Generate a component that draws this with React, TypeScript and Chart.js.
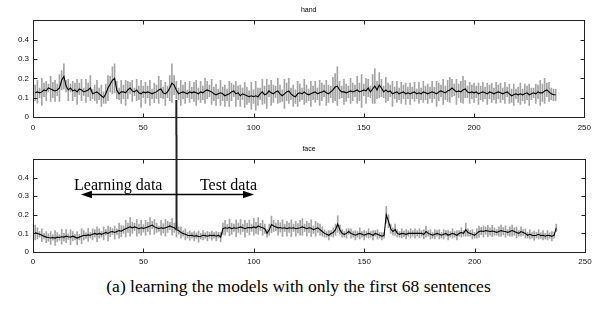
import React, { useEffect, useRef } from "react";
import { Chart, registerables } from "chart.js";

Chart.register(...registerables);

// ---- data ----
const panelTitles = ["hand", "face"];
const xTickValues = [0, 50, 100, 150, 200, 250];
const yTickValues = [0, 0.1, 0.2, 0.3, 0.4];
const caption = "(a) learning the models with only the first 68 sentences";
const arrowLabels = ["Learning data", "Test data"];
const splitSentence = 65;

const handMean = [
  0.125, 0.13, 0.125, 0.13, 0.14, 0.135, 0.15, 0.145, 0.14, 0.135,
  0.14, 0.15, 0.19, 0.21, 0.16, 0.14, 0.15, 0.135, 0.14, 0.13,
  0.145, 0.14, 0.13, 0.135, 0.14, 0.15, 0.12, 0.125, 0.13, 0.12,
  0.11, 0.1, 0.12, 0.15, 0.17, 0.19, 0.2, 0.14, 0.12, 0.13,
  0.13, 0.125, 0.14, 0.15, 0.135, 0.13, 0.14, 0.125, 0.12, 0.13,
  0.125, 0.13, 0.125, 0.12, 0.125, 0.13, 0.14, 0.145, 0.125, 0.12,
  0.13, 0.15, 0.175, 0.165, 0.14, 0.12, 0.125, 0.13, 0.125, 0.12,
  0.13, 0.125, 0.13, 0.125, 0.12, 0.13, 0.125, 0.135, 0.14, 0.135,
  0.13, 0.12, 0.115, 0.12, 0.125, 0.12, 0.11, 0.115, 0.12, 0.13,
  0.135, 0.12, 0.125, 0.11, 0.12, 0.115, 0.11, 0.105, 0.11, 0.105,
  0.11, 0.105, 0.12, 0.13, 0.115, 0.12, 0.135, 0.125, 0.12, 0.13,
  0.135, 0.12, 0.11, 0.12, 0.13, 0.135, 0.12, 0.11, 0.105, 0.12,
  0.125, 0.12, 0.13, 0.12, 0.115, 0.12, 0.125, 0.13, 0.12, 0.125,
  0.13, 0.135, 0.125, 0.12, 0.13, 0.14, 0.155, 0.16, 0.14, 0.13,
  0.13, 0.125, 0.13, 0.135, 0.13, 0.135, 0.14, 0.13, 0.135, 0.14,
  0.135, 0.15, 0.13, 0.145, 0.16, 0.14, 0.165, 0.15, 0.13, 0.14,
  0.13, 0.135, 0.12, 0.125, 0.13, 0.12, 0.125, 0.13, 0.12, 0.125,
  0.12, 0.125, 0.13, 0.12, 0.125, 0.12, 0.13, 0.125, 0.12, 0.125,
  0.13, 0.125, 0.12, 0.13, 0.135, 0.13, 0.125, 0.135, 0.14, 0.15,
  0.14, 0.13, 0.135, 0.13, 0.14, 0.145, 0.13, 0.125, 0.13, 0.125,
  0.13, 0.12, 0.125, 0.13, 0.125, 0.12, 0.13, 0.125, 0.12, 0.125,
  0.13, 0.125, 0.12, 0.125, 0.13, 0.12, 0.11, 0.115, 0.12, 0.115,
  0.12, 0.115, 0.12, 0.125, 0.115, 0.12, 0.125, 0.12, 0.13, 0.125,
  0.125, 0.135, 0.14, 0.13, 0.12, 0.115, 0.115,
];

const handErr = [
  0.04, 0.06, 0.025, 0.07, 0.035, 0.05, 0.02, 0.065, 0.04, 0.055,
  0.03, 0.07, 0.05, 0.065, 0.03, 0.055, 0.02, 0.05, 0.035, 0.065,
  0.03, 0.055, 0.02, 0.06, 0.035, 0.065, 0.025, 0.04, 0.06, 0.03,
  0.055, 0.03, 0.05, 0.065, 0.04, 0.07, 0.075, 0.045, 0.03, 0.06,
  0.035, 0.065, 0.045, 0.03, 0.055, 0.02, 0.055, 0.035, 0.07, 0.03,
  0.055, 0.03, 0.065, 0.025, 0.05, 0.035, 0.07, 0.045, 0.03, 0.06,
  0.03, 0.065, 0.1, 0.05, 0.045, 0.03, 0.065, 0.035, 0.055, 0.02,
  0.055, 0.03, 0.05, 0.065, 0.03, 0.055, 0.035, 0.065, 0.045, 0.03,
  0.065, 0.035, 0.055, 0.025, 0.065, 0.035, 0.055, 0.03, 0.065, 0.045,
  0.03, 0.065, 0.035, 0.055, 0.03, 0.065, 0.045, 0.03, 0.07, 0.035,
  0.075, 0.045, 0.03, 0.065, 0.045, 0.075, 0.03, 0.065, 0.045, 0.03,
  0.065, 0.045, 0.03, 0.075, 0.045, 0.065, 0.03, 0.055, 0.035, 0.065,
  0.045, 0.03, 0.065, 0.045, 0.03, 0.065, 0.035, 0.055, 0.03, 0.065,
  0.045, 0.03, 0.065, 0.045, 0.03, 0.065, 0.07, 0.1, 0.045, 0.03,
  0.065, 0.045, 0.03, 0.065, 0.045, 0.03, 0.07, 0.045, 0.085, 0.03,
  0.065, 0.045, 0.03, 0.075, 0.09, 0.045, 0.065, 0.045, 0.03, 0.065,
  0.045, 0.03, 0.065, 0.03, 0.055, 0.03, 0.055, 0.035, 0.055, 0.03,
  0.055, 0.03, 0.05, 0.025, 0.055, 0.03, 0.055, 0.035, 0.05, 0.03,
  0.055, 0.03, 0.065, 0.045, 0.03, 0.065, 0.035, 0.055, 0.065, 0.045,
  0.03, 0.065, 0.035, 0.055, 0.07, 0.045, 0.03, 0.055, 0.035, 0.05,
  0.03, 0.055, 0.035, 0.05, 0.03, 0.055, 0.035, 0.05, 0.03, 0.055,
  0.035, 0.05, 0.03, 0.055, 0.025, 0.05, 0.035, 0.055, 0.025, 0.04,
  0.055, 0.03, 0.05, 0.035, 0.055, 0.03, 0.025, 0.05, 0.035, 0.065,
  0.045, 0.065, 0.035, 0.05, 0.03, 0.03, 0.03,
];

const faceMean = [
  0.105, 0.1, 0.095, 0.09, 0.085, 0.08, 0.078, 0.075, 0.078, 0.075,
  0.08, 0.078, 0.082, 0.08, 0.085, 0.082, 0.08, 0.085, 0.08, 0.075,
  0.08, 0.085, 0.09, 0.088, 0.092, 0.09, 0.095, 0.1, 0.095, 0.1,
  0.095, 0.1, 0.105, 0.1, 0.108, 0.11, 0.105, 0.11, 0.115, 0.112,
  0.12, 0.125, 0.13, 0.135, 0.13, 0.135, 0.13, 0.125, 0.13, 0.127,
  0.13, 0.135, 0.14, 0.145, 0.135, 0.13, 0.125, 0.13, 0.127, 0.13,
  0.135, 0.14, 0.135, 0.13, 0.12, 0.115, 0.105, 0.1, 0.095, 0.09,
  0.088, 0.09, 0.085, 0.088, 0.083, 0.085, 0.09, 0.088, 0.085, 0.09,
  0.088, 0.09, 0.085, 0.09, 0.08, 0.125, 0.13, 0.128, 0.132, 0.125,
  0.13, 0.128, 0.13, 0.135, 0.13, 0.125, 0.13, 0.132, 0.13, 0.135,
  0.13, 0.14, 0.135, 0.13, 0.125, 0.1, 0.12, 0.148, 0.14, 0.135,
  0.13, 0.132, 0.128, 0.13, 0.125, 0.13, 0.128, 0.13, 0.125, 0.128,
  0.13, 0.135, 0.13, 0.125, 0.13, 0.128, 0.12, 0.125, 0.13, 0.12,
  0.11, 0.1, 0.095, 0.09, 0.1, 0.105, 0.12, 0.15, 0.12, 0.1,
  0.095, 0.1, 0.11, 0.1, 0.095, 0.09, 0.095, 0.1, 0.095, 0.09,
  0.095, 0.1, 0.095, 0.09, 0.1, 0.095, 0.09, 0.085, 0.09, 0.2,
  0.165, 0.125, 0.11, 0.12, 0.1, 0.095, 0.1, 0.098, 0.095, 0.1,
  0.1, 0.1, 0.1, 0.1, 0.1, 0.1, 0.095, 0.11, 0.1, 0.095,
  0.09, 0.095, 0.1, 0.095, 0.09, 0.095, 0.1, 0.09, 0.095, 0.1,
  0.095, 0.09, 0.1, 0.105, 0.1, 0.12, 0.105, 0.1, 0.095, 0.09,
  0.1, 0.11, 0.113, 0.11, 0.115, 0.113, 0.11, 0.113, 0.11, 0.105,
  0.11, 0.115, 0.112, 0.11, 0.105, 0.11, 0.115, 0.11, 0.105, 0.1,
  0.11, 0.105, 0.1, 0.09, 0.095, 0.09, 0.088, 0.09, 0.095, 0.088,
  0.09, 0.085, 0.09, 0.088, 0.085, 0.09, 0.13,
];

const faceErr = [
  0.04, 0.03, 0.015, 0.035, 0.015, 0.03, 0.02, 0.035, 0.015, 0.04,
  0.025, 0.015, 0.04, 0.02, 0.035, 0.015, 0.04, 0.025, 0.015, 0.035,
  0.015, 0.04, 0.025, 0.015, 0.035, 0.015, 0.03, 0.02, 0.04, 0.025,
  0.015, 0.035, 0.015, 0.04, 0.025, 0.015, 0.035, 0.015, 0.04, 0.03,
  0.02, 0.045, 0.025, 0.05, 0.03, 0.02, 0.045, 0.025, 0.04, 0.02,
  0.04, 0.025, 0.045, 0.02, 0.04, 0.025, 0.015, 0.04, 0.025, 0.045,
  0.03, 0.02, 0.045, 0.025, 0.04, 0.02, 0.03, 0.015, 0.03, 0.015,
  0.025, 0.015, 0.025, 0.015, 0.03, 0.015, 0.025, 0.015, 0.025, 0.015,
  0.025, 0.015, 0.025, 0.015, 0.025, 0.03, 0.04, 0.02, 0.045, 0.03,
  0.02, 0.045, 0.025, 0.04, 0.02, 0.045, 0.025, 0.04, 0.02, 0.045,
  0.03, 0.045, 0.02, 0.04, 0.025, 0.02, 0.03, 0.045, 0.03, 0.02,
  0.04, 0.025, 0.045, 0.02, 0.04, 0.025, 0.045, 0.02, 0.04, 0.025,
  0.04, 0.045, 0.02, 0.04, 0.025, 0.045, 0.02, 0.04, 0.025, 0.03,
  0.025, 0.02, 0.015, 0.025, 0.015, 0.025, 0.03, 0.045, 0.025, 0.02,
  0.015, 0.025, 0.015, 0.025, 0.015, 0.025, 0.015, 0.03, 0.015, 0.025,
  0.015, 0.025, 0.015, 0.025, 0.015, 0.025, 0.015, 0.02, 0.015, 0.045,
  0.035, 0.025, 0.02, 0.03, 0.02, 0.015, 0.025, 0.015, 0.025, 0.015,
  0.025, 0.015, 0.025, 0.015, 0.025, 0.015, 0.025, 0.03, 0.015, 0.025,
  0.015, 0.025, 0.015, 0.025, 0.015, 0.025, 0.015, 0.025, 0.015, 0.025,
  0.015, 0.025, 0.015, 0.025, 0.015, 0.035, 0.02, 0.015, 0.025, 0.015,
  0.025, 0.03, 0.02, 0.03, 0.02, 0.03, 0.02, 0.03, 0.02, 0.015,
  0.025, 0.03, 0.02, 0.03, 0.015, 0.025, 0.03, 0.02, 0.03, 0.015,
  0.025, 0.015, 0.025, 0.015, 0.025, 0.015, 0.025, 0.015, 0.025, 0.015,
  0.025, 0.015, 0.025, 0.015, 0.025, 0.015, 0.02,
];

// ---- styling / layout constants ----
const SANS = "'Liberation Sans', Arial, Helvetica, sans-serif";
const SERIF = "'Liberation Serif', 'Times New Roman', serif";
const TICK_LEN = 4;

const framePlugin = {
  id: "frame",
  afterDatasetsDraw(chart: any) {
    const { ctx, chartArea: a, scales } = chart;
    const x = scales.x;
    const y = scales.y;
    ctx.save();
    ctx.strokeStyle = "#222";
    ctx.lineWidth = 1;
    const L = Math.round(a.left) + 0.5;
    const T = Math.round(a.top) + 0.5;
    const R = Math.round(a.right) + 0.5;
    const B = Math.round(a.bottom) + 0.5;
    ctx.strokeRect(L, T, R - L, B - T);
    ctx.beginPath();
    x.ticks.forEach((t: any) => {
      const px = Math.round(x.getPixelForValue(t.value)) + 0.5;
      ctx.moveTo(px, B);
      ctx.lineTo(px, B - TICK_LEN);
      ctx.moveTo(px, T);
      ctx.lineTo(px, T + TICK_LEN);
    });
    y.ticks.forEach((t: any) => {
      const py = Math.round(y.getPixelForValue(t.value)) + 0.5;
      ctx.moveTo(L, py);
      ctx.lineTo(L + TICK_LEN, py);
      ctx.moveTo(R, py);
      ctx.lineTo(R - TICK_LEN, py);
    });
    ctx.stroke();
    ctx.restore();
  },
};

// vertical separator crossing both panels
const makeSplitPlugin = (fromValue: number, panel: "top" | "bottom") => ({
  id: "split",
  afterDraw(chart: any) {
    const { ctx, scales } = chart;
    const px = scales.x.getPixelForValue(splitSentence);
    const py = scales.y.getPixelForValue(fromValue);
    ctx.save();
    ctx.strokeStyle = "#222";
    ctx.lineWidth = 2;
    ctx.beginPath();
    if (panel === "top") {
      ctx.moveTo(px, py);
      ctx.lineTo(px, chart.height);
    } else {
      ctx.moveTo(px, 0);
      ctx.lineTo(px, py);
    }
    ctx.stroke();
    ctx.restore();
  },
});

const arrowPlugin = {
  id: "arrows",
  afterDraw(chart: any) {
    const { ctx, scales } = chart;
    const x = scales.x;
    const y = scales.y;
    const x1 = x.getPixelForValue(21.7);
    const x2 = x.getPixelForValue(100.1);
    const py = Math.round(y.getPixelForValue(0.312)) + 0.5;
    ctx.save();
    ctx.strokeStyle = "#000";
    ctx.fillStyle = "#000";
    ctx.lineWidth = 1.3;
    ctx.beginPath();
    ctx.moveTo(x1 + 4, py);
    ctx.lineTo(x2 - 4, py);
    ctx.stroke();
    const hl = 11;
    const hh = 3.8;
    ctx.beginPath();
    ctx.moveTo(x1, py);
    ctx.lineTo(x1 + hl, py - hh);
    ctx.lineTo(x1 + hl, py + hh);
    ctx.closePath();
    ctx.fill();
    ctx.beginPath();
    ctx.moveTo(x2, py);
    ctx.lineTo(x2 - hl, py - hh);
    ctx.lineTo(x2 - hl, py + hh);
    ctx.closePath();
    ctx.fill();
    ctx.font = `16px ${SERIF}`;
    ctx.textBaseline = "alphabetic";
    ctx.textAlign = "left";
    const by = y.getPixelForValue(0.335);
    ctx.fillText(arrowLabels[0], x.getPixelForValue(18.6), by);
    ctx.fillText(arrowLabels[1], x.getPixelForValue(75.6), by);
    ctx.restore();
  },
};

function buildConfig(
  title: string,
  mean: number[],
  err: number[],
  titlePad: { top: number; bottom: number },
  xAxisHeight: number,
  xLabelPad: number,
  extraPlugins: any[]
): any {
  const n = Math.min(mean.length, err.length);
  const sentences = mean.slice(0, n).map((_, i) => i + 1);
  const linePts = sentences.map((s, i) => ({ x: s, y: mean[i] }));
  const barPts = sentences.map((s, i) => ({ x: s, y: [mean[i] - err[i], mean[i] + err[i]] }));
  return {
    type: "bar",
    data: {
      datasets: [
        {
          type: "line",
          data: linePts,
          borderColor: "#000",
          borderWidth: 1.1,
          pointRadius: 0,
          tension: 0,
          order: 0,
        },
        {
          type: "bar",
          data: barPts,
          backgroundColor: "#a4a4a4",
          borderWidth: 0,
          barThickness: 1,
          order: 1,
        },
      ],
    },
    options: {
      responsive: false,
      animation: false,
      events: [],
      layout: { padding: { left: 0, right: 12, top: 0, bottom: 0 } },
      plugins: {
        legend: { display: false },
        tooltip: { enabled: false },
        title: {
          display: true,
          text: title,
          fullSize: false,
          color: "#000",
          font: { size: 7, family: SANS, weight: "normal", lineHeight: 1.2 },
          padding: titlePad,
        },
      },
      scales: {
        x: {
          type: "linear",
          min: 0,
          max: 250,
          offset: false,
          afterBuildTicks: (s: any) => {
            s.ticks = xTickValues.map((v) => ({ value: v }));
          },
          afterFit: (s: any) => {
            s.height = xAxisHeight;
          },
          grid: { display: false, drawTicks: false },
          border: { display: false },
          ticks: {
            padding: xLabelPad,
            color: "#111",
            font: { size: 8, family: SANS },
            maxRotation: 0,
            autoSkip: false,
            callback: (v: any) => String(v),
          },
        },
        y: {
          type: "linear",
          min: 0,
          max: 0.5,
          afterBuildTicks: (s: any) => {
            s.ticks = yTickValues.map((v) => ({ value: v }));
          },
          afterFit: (s: any) => {
            s.width = 33;
          },
          grid: { display: false, drawTicks: false },
          border: { display: false },
          ticks: {
            padding: 4,
            color: "#111",
            font: { size: 8, family: SANS },
            autoSkip: false,
            callback: (v: any) => (v === 0 ? "0" : Number(v).toFixed(1)),
          },
        },
      },
    },
    plugins: [framePlugin, ...extraPlugins],
  };
}

export default function App() {
  const topRef = useRef<HTMLCanvasElement>(null);
  const botRef = useRef<HTMLCanvasElement>(null);

  useEffect(() => {
    const top = new Chart(
      topRef.current as HTMLCanvasElement,
      buildConfig(panelTitles[0], handMean, handErr, { top: 6, bottom: 6 }, 18, 6, [
        makeSplitPlugin(0.088, "top"),
      ])
    );
    const bot = new Chart(
      botRef.current as HTMLCanvasElement,
      buildConfig(panelTitles[1], faceMean, faceErr, { top: 10, bottom: 5.6 }, 13, 5, [
        makeSplitPlugin(0.118, "bottom"),
        arrowPlugin,
      ])
    );
    return () => {
      top.destroy();
      bot.destroy();
    };
  }, []);

  return (
    <div
      style={{
        position: "fixed",
        left: 0,
        top: 0,
        width: 597,
        height: 310,
        background: "#fff",
        overflow: "hidden",
      }}
    >
      <canvas ref={topRef} width={597} height={135} style={{ display: "block", width: 597, height: 135 }} />
      <canvas ref={botRef} width={597} height={130} style={{ display: "block", width: 597, height: 130 }} />
      <div
        style={{
          position: "absolute",
          left: 0,
          top: 276,
          width: 597,
          textAlign: "center",
          fontFamily: SERIF,
          fontSize: 17.5,
          lineHeight: "20px",
          color: "#000",
          whiteSpace: "nowrap",
        }}
      >
        {caption}
      </div>
    </div>
  );
}
